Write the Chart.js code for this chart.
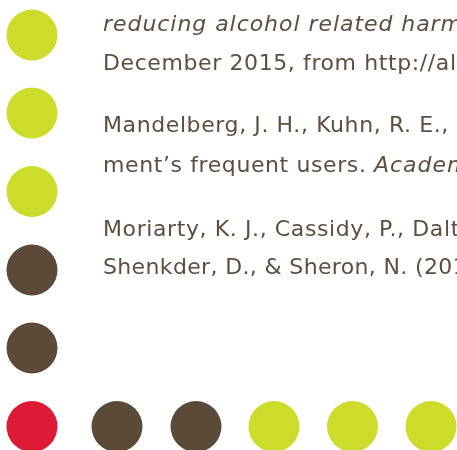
<!DOCTYPE html>
<html>
<head>
<meta charset="utf-8">
<script src="https://cdn.jsdelivr.net/npm/chart.js@4"></script>
<style>
  html, body { margin: 0; padding: 0; background: #ffffff; overflow: hidden; }
  #wrap { position: relative; width: 457px; height: 450px; overflow: hidden; }
  #chart { position: absolute; left: 0; top: 0; }
  .ln { position: absolute; left: 103px; white-space: nowrap; font-family: "DejaVu Sans", sans-serif;
        font-size: 22px; line-height: 22px; color: #5e4e3e; letter-spacing: 0.6px; }
  .ln:last-child { letter-spacing: 0.35px; }
  .it { font-style: italic; letter-spacing: 0.95px; }
</style>
</head>
<body>
<div id="wrap">
  <canvas id="chart" width="457" height="450"></canvas>
  <div id="text"></div>
</div>
<script>
// Dot markers (x, y in page units) and their colour groups
const dotX = [32, 32, 32, 32, 32, 32, 117, 196, 274, 352.5, 431];
const dotY = [35, 113, 191.5, 270, 348, 426.5, 426.5, 426.5, 426.5, 426.5, 426.5];
const dotGroup = ['lime', 'lime', 'lime', 'brown', 'brown', 'red', 'brown', 'brown', 'lime', 'lime', 'lime'];

// Reference text lines: [normal part, italic part] and baselines
const lineParts = [
  ['', 'reducing alcohol related harm'],
  ['December 2015, from http://al', ''],
  ['Mandelberg, J. H., Kuhn, R. E., ', ''],
  ['ment\u2019s frequent users. ', 'Academ'],
  ['Moriarty, K. J., Cassidy, P., Dalt', ''],
  ['Shenkder, D., & Sheron, N. (201', '']
];
const lineBaseline = [32, 71, 133, 173, 237, 275];

const palette = { lime: '#cddc2a', brown: '#5c4a38', red: '#dc1a35' };

const textLayer = document.getElementById('text');
lineParts.forEach((p, i) => {
  const d = document.createElement('div');
  d.className = 'ln';
  d.style.top = (lineBaseline[i] - 18.6) + 'px';
  if (p[0]) { const s = document.createElement('span'); s.textContent = p[0]; d.appendChild(s); }
  if (p[1]) { const s = document.createElement('span'); s.className = 'it'; s.textContent = p[1]; d.appendChild(s); }
  textLayer.appendChild(d);
});

new Chart(document.getElementById('chart'), {
  type: 'scatter',
  data: {
    datasets: [{
      data: dotX.map((x, i) => ({ x: x, y: dotY[i] })),
      backgroundColor: dotGroup.map(g => palette[g]),
      borderWidth: 0,
      pointRadius: 25.5,
      pointHoverRadius: 25.5,
      clip: false
    }]
  },
  options: {
    responsive: false,
    animation: false,
    layout: { padding: 0, autoPadding: false },
    plugins: { legend: { display: false }, tooltip: { enabled: false } },
    events: [],
    scales: {
      x: { type: 'linear', min: 0, max: 457, display: false },
      y: { type: 'linear', min: 0, max: 450, reverse: true, display: false }
    }
  }
});
</script>
</body>
</html>
